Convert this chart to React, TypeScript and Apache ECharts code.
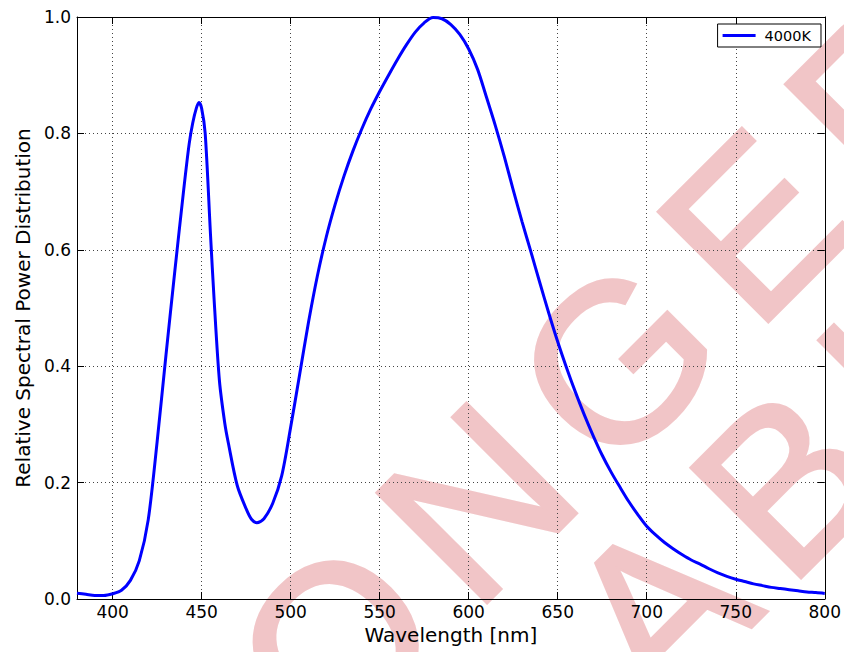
import React, { useEffect, useRef } from 'react';
import * as echarts from 'echarts';

const wavelengths = [
  380, 385, 390, 395, 400, 405, 410, 415, 420, 425, 430, 435, 440, 443, 445, 447, 448.5, 450, 452, 455, 457, 460,
  463, 465, 470, 475, 478, 481, 485, 490, 495, 500, 505, 510, 515, 520, 525, 530, 535, 540, 545, 550, 555, 560,
  565, 570, 575, 580, 585, 590, 595, 600, 605, 610, 615, 620, 625, 630, 635, 640, 645, 650, 655, 660, 665, 670,
  675, 680, 685, 690, 695, 700, 705, 710, 715, 720, 725, 730, 735, 740, 745, 750, 755, 760, 765, 770, 775, 780,
  785, 790, 795, 800,
];
const spd = [
  0.010, 0.008, 0.006, 0.006, 0.009, 0.015, 0.032, 0.066, 0.136, 0.270, 0.420, 0.565, 0.705, 0.782, 0.818, 0.843,
  0.853, 0.843, 0.800, 0.625, 0.515, 0.375, 0.302, 0.268, 0.195, 0.155, 0.137, 0.131, 0.138, 0.165, 0.212, 0.295,
  0.385, 0.475, 0.555, 0.622, 0.678, 0.727, 0.770, 0.808, 0.842, 0.872, 0.900, 0.927, 0.952, 0.974, 0.990, 0.999,
  0.997, 0.987, 0.970, 0.945, 0.910, 0.862, 0.813, 0.760, 0.703, 0.648, 0.596, 0.543, 0.491, 0.442, 0.397, 0.355,
  0.316, 0.280, 0.247, 0.218, 0.192, 0.167, 0.145, 0.125, 0.110, 0.097, 0.086, 0.076, 0.067, 0.060, 0.052, 0.045,
  0.039, 0.034, 0.030, 0.026, 0.023, 0.020, 0.018, 0.016, 0.014, 0.012, 0.011, 0.0095,
];
const xTicks = [400, 450, 500, 550, 600, 650, 700, 750, 800];
const yMin = 0;
const yMax = 1;
const yStep = 0.2;
const seriesName = '4000K';
const xTitle = 'Wavelength [nm]';
const yTitle = 'Relative Spectral Power Distribution';
const watermarkLines = ['NO LONGER', 'AVAILABLE'];

const W = 844;
const H = 652;

function buildWatermark() {
  const wmFont = "'Liberation Sans', Arial, sans-serif";
  const wmSize = 225;
  const wmSpacing = 30;
  const pink = '#f1c5c7';
  // start offset along the rotated baseline and the (x + y) of each line's centre line
  const lineStarts = [-950, -828];
  const lineCentres = [979, 1268];
  const canvas = document.createElement('canvas');
  const ctx = canvas.getContext('2d');
  const elements: any[] = [];
  const c = Math.SQRT1_2;
  watermarkLines.forEach((line, li) => {
    let s = lineStarts[li];
    for (const ch of line) {
      let w = wmSize * 0.65;
      if (ctx) {
        ctx.font = `${wmSize}px ${wmFont}`;
        w = ctx.measureText(ch).width;
      }
      if (ch !== ' ') {
        const x = (lineCentres[li] + s * Math.SQRT2) / 2;
        const y = (lineCentres[li] - s * Math.SQRT2) / 2;
        const corners = [
          [0, -wmSize / 2],
          [w, -wmSize / 2],
          [0, wmSize / 2],
          [w, wmSize / 2],
        ].map(([lx, ly]) => [x + lx * c + ly * c, y - lx * c + ly * c]);
        const minX = Math.min(...corners.map((p) => p[0]));
        const maxX = Math.max(...corners.map((p) => p[0]));
        const minY = Math.min(...corners.map((p) => p[1]));
        const maxY = Math.max(...corners.map((p) => p[1]));
        if (maxX > 0 && minX < W && maxY > 0 && minY < H) {
          elements.push({
            type: 'text',
            x,
            y,
            rotation: Math.PI / 4,
            z: -1,
            silent: true,
            style: {
              text: ch,
              fontSize: wmSize,
              fontFamily: wmFont,
              fill: pink,
              stroke: pink,
              lineWidth: 4,
              textAlign: 'left',
              textVerticalAlign: 'middle',
              align: 'left',
              verticalAlign: 'middle',
            },
          });
        }
      }
      s += w + wmSpacing;
    }
  });
  return elements;
}

export default function App() {
  const ref = useRef<HTMLDivElement>(null);

  useEffect(() => {
    if (!ref.current) return;
    const chart = echarts.init(ref.current, null, { renderer: 'svg' });
    const font = "'DejaVu Sans', sans-serif";
    const black = '#000';
    const dotted = { type: [1, 3], color: '#444', width: 1 };
    const frameLine = { show: true, onZero: false, lineStyle: { color: black, width: 1 } };

    chart.setOption({
      animation: false,
      textStyle: { fontFamily: font },
      grid: { left: 77, right: 17, top: 17, bottom: 53 },
      legend: {
        data: [seriesName],
        right: 23,
        top: 24,
        orient: 'vertical',
        icon: 'rect',
        padding: [4, 10, 4, 5],
        itemWidth: 33,
        itemHeight: 3,
        itemGap: 6,
        borderColor: black,
        borderWidth: 1,
        borderRadius: 0,
        backgroundColor: '#fff',
        textStyle: { fontSize: 14.5, color: black, fontFamily: font, padding: [0, 0, 0, 4] },
      },
      xAxis: [
        {
          type: 'value',
          min: 380,
          max: 800,
          position: 'bottom',
          name: xTitle,
          nameLocation: 'middle',
          nameGap: 22,
          nameTextStyle: { fontSize: 20, color: black, fontFamily: font, verticalAlign: 'top' },
          axisLine: frameLine,
          axisTick: { show: true, inside: true, length: 7, customValues: xTicks, lineStyle: { color: black } },
          axisLabel: { customValues: xTicks, fontSize: 17, color: black, margin: 4, fontFamily: font },
          splitLine: { show: true, lineStyle: dotted },
        },
        {
          type: 'value',
          min: 380,
          max: 800,
          position: 'top',
          axisLine: frameLine,
          axisTick: { show: true, inside: true, length: 7, customValues: xTicks, lineStyle: { color: black } },
          axisLabel: { show: false, customValues: xTicks },
          splitLine: { show: false },
        },
      ],
      yAxis: [
        {
          type: 'value',
          min: yMin,
          max: yMax,
          interval: yStep,
          position: 'left',
          name: yTitle,
          nameLocation: 'middle',
          nameGap: 42,
          nameTextStyle: { fontSize: 20, color: black, fontFamily: font },
          axisLine: frameLine,
          axisTick: { show: true, inside: true, length: 7, lineStyle: { color: black } },
          axisLabel: {
            fontSize: 17,
            color: black,
            margin: 6,
            fontFamily: font,
            formatter: (v: number) => v.toFixed(1),
          },
          splitLine: { show: true, lineStyle: dotted },
        },
        {
          type: 'value',
          min: yMin,
          max: yMax,
          interval: yStep,
          position: 'right',
          axisLine: frameLine,
          axisTick: { show: true, inside: true, length: 7, lineStyle: { color: black } },
          axisLabel: { show: false },
          splitLine: { show: false },
        },
      ],
      series: [
        {
          name: seriesName,
          type: 'line',
          xAxisIndex: 0,
          yAxisIndex: 0,
          data: wavelengths.map((w, i) => [w, spd[i]]),
          showSymbol: false,
          symbol: 'none',
          smooth: 0.3,
          lineStyle: { color: '#0000ff', width: 3 },
          itemStyle: { color: '#0000ff' },
          z: 3,
        },
      ],
      graphic: { elements: buildWatermark() },
    });

    return () => {
      chart.dispose();
    };
  }, []);

  return (
    <div
      ref={ref}
      style={{ position: 'absolute', left: 0, top: 0, width: W, height: H, background: '#fff' }}
    />
  );
}
